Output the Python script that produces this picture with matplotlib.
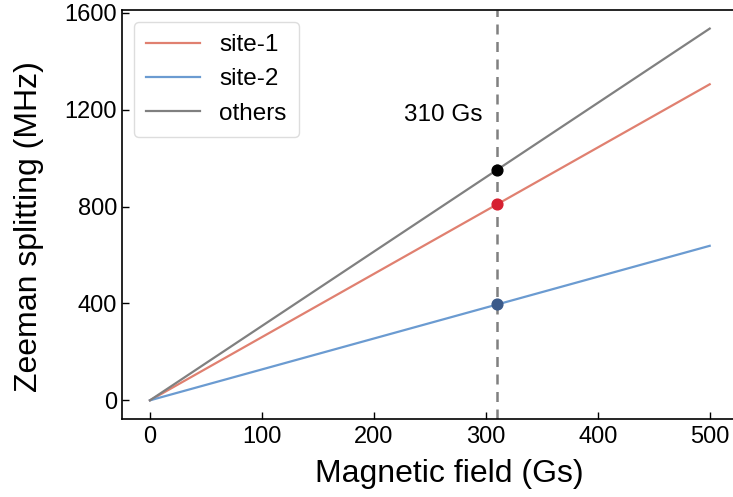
import matplotlib
matplotlib.use("Agg")
import matplotlib.pyplot as plt

plt.rcParams['font.family'] = ['Liberation Sans', 'DejaVu Sans']

field = [0, 500]
site1 = [0, 1305]
site2 = [0, 638]
others = [0, 1535]
marker_field = 310
marker_vals = [950, 810, 397]
marker_colors = ['#000000', '#D62030', '#3B5A8A']

fig = plt.figure(figsize=(7.33, 4.97), dpi=100)
ax = fig.add_axes([0.1664, 0.157, 0.84, 0.823])

ax.plot(field, site1, color='#E08070', lw=1.6, label='site-1')
ax.plot(field, site2, color='#6B9BD1', lw=1.6, label='site-2')
ax.plot(field, others, color='#808080', lw=1.6, label='others')
ax.axvline(marker_field, color='#808080', lw=1.8, ls=(0, (4, 3)))
for v, c in zip(marker_vals, marker_colors):
    ax.scatter([marker_field], [v], s=60, color=c, zorder=5)

ax.text(297, 1179, '310 Gs', ha='right', va='center', fontsize=17.5)

ax.set_xlim(-25, 525)
ax.set_ylim(-77, 1612)
ax.set_xticks([0, 100, 200, 300, 400, 500])
ax.set_yticks([0, 400, 800, 1200, 1600])
ax.tick_params(direction='in', labelsize=17, length=5, width=1)
ax.tick_params(axis='x', pad=5)
ax.set_xlabel('Magnetic field (Gs)', fontsize=23)
ax.set_ylabel('Zeeman splitting (MHz)', fontsize=23)
ax.xaxis.set_label_coords(0.532, -0.098)
ax.yaxis.set_label_coords(-0.127, 0.47)
for s in ax.spines.values():
    s.set_linewidth(1.2)

ax.legend(loc='upper left', fontsize=17.5, handlelength=2.2, frameon=True,
          fancybox=True, framealpha=1, edgecolor='#DDDDDD', borderpad=0.5,
          labelspacing=0.5)

fig.savefig('out.png', dpi=100)
